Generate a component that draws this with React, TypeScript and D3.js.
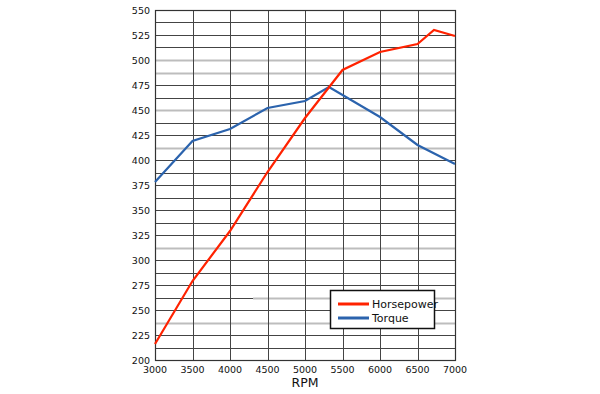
import * as d3 from "d3";
import { useEffect, useRef } from "react";

const hpRpm = [3000, 3500, 4000, 4500, 5000, 5500, 6000, 6500, 6720, 7000];
const hpValues = [216, 279, 329, 388, 442, 490, 508, 516, 530, 524];

const tqRpm = [3000, 3500, 4000, 4500, 5000, 5320, 6000, 6500, 7000];
const tqValues = [378, 419, 431, 452, 459, 473, 443, 415, 396];

const xTicks = [3000, 3500, 4000, 4500, 5000, 5500, 6000, 6500, 7000];
const yTicks = [200, 225, 250, 275, 300, 325, 350, 375, 400, 425, 450, 475, 500, 525, 550];
// grid lines that appear light grey in the original
const greyLines = [500, 487.5, 450, 412.5, 312.5, 237.5];

const App = () => {
  const ref = useRef<SVGSVGElement>(null);

  useEffect(() => {
    const svg = d3.select(ref.current);
    svg.selectAll("*").remove();

    const left = 155,
      right = 455,
      top = 10,
      bottom = 360;

    const x = d3.scaleLinear().domain([3000, 7000]).range([left, right]);
    const y = d3.scaleLinear().domain([200, 550]).range([bottom, top]);

    const g = svg.append("g");

    // horizontal grid every 12.5
    const hLines = d3.range(200, 550.1, 12.5);
    g.selectAll(".hgrid")
      .data(hLines)
      .enter()
      .append("line")
      .attr("x1", left)
      .attr("x2", right)
      .attr("y1", (d) => Math.round(y(d)) + 0.5)
      .attr("y2", (d) => Math.round(y(d)) + 0.5)
      .attr("stroke", "#444")
      .attr("stroke-width", 1);

    g.selectAll(".greygrid")
      .data(greyLines)
      .enter()
      .append("line")
      .attr("x1", left)
      .attr("x2", right)
      .attr("y1", (d) => Math.round(y(d)) + 0.5)
      .attr("y2", (d) => Math.round(y(d)) + 0.5)
      .attr("stroke", "#bdbdbd")
      .attr("stroke-width", 2);

    // partial grey line
    g.append("line")
      .attr("x1", 253)
      .attr("x2", right)
      .attr("y1", Math.round(y(262.5)) + 0.5)
      .attr("y2", Math.round(y(262.5)) + 0.5)
      .attr("stroke", "#bdbdbd")
      .attr("stroke-width", 2);

    g.selectAll(".vgrid")
      .data(xTicks)
      .enter()
      .append("line")
      .attr("x1", (d) => Math.round(x(d)) + 0.5)
      .attr("x2", (d) => Math.round(x(d)) + 0.5)
      .attr("y1", top)
      .attr("y2", bottom)
      .attr("stroke", "#444")
      .attr("stroke-width", 1);

    g.append("rect")
      .attr("x", left + 0.5)
      .attr("y", top + 0.5)
      .attr("width", right - left)
      .attr("height", bottom - top)
      .attr("fill", "none")
      .attr("stroke", "#333")
      .attr("stroke-width", 1.2);

    // tick labels
    g.selectAll(".ylab")
      .data(yTicks)
      .enter()
      .append("text")
      .attr("x", left - 5)
      .attr("y", (d) => y(d) + 3.5)
      .attr("text-anchor", "end")
      .attr("font-family", "DejaVu Sans")
      .attr("font-size", 9.5)
      .attr("fill", "#111")
      .text((d) => d);

    g.selectAll(".xlab")
      .data(xTicks)
      .enter()
      .append("text")
      .attr("x", (d) => x(d))
      .attr("y", bottom + 13)
      .attr("text-anchor", "middle")
      .attr("font-family", "DejaVu Sans")
      .attr("font-size", 9.5)
      .attr("fill", "#111")
      .text((d) => d);

    g.append("text")
      .attr("x", (left + right) / 2)
      .attr("y", bottom + 27)
      .attr("text-anchor", "middle")
      .attr("font-family", "DejaVu Sans")
      .attr("font-size", 12.5)
      .attr("fill", "#111")
      .text("RPM");

    const line = d3
      .line<[number, number]>()
      .x((d) => x(d[0]))
      .y((d) => y(d[1]));

    g.append("path")
      .datum(tqRpm.map((r, i) => [r, tqValues[i]] as [number, number]))
      .attr("d", line)
      .attr("fill", "none")
      .attr("stroke", "#2b63ad")
      .attr("stroke-width", 2.2);

    g.append("path")
      .datum(hpRpm.map((r, i) => [r, hpValues[i]] as [number, number]))
      .attr("d", line)
      .attr("fill", "none")
      .attr("stroke", "#ff2200")
      .attr("stroke-width", 2.2);

    // legend
    const lg = g.append("g");
    lg.append("rect")
      .attr("x", 330.5)
      .attr("y", 290.5)
      .attr("width", 104)
      .attr("height", 38)
      .attr("fill", "#fff")
      .attr("stroke", "#111")
      .attr("stroke-width", 1.5);
    const items = [
      { name: "Horsepower", color: "#ff2200" },
      { name: "Torque", color: "#2b63ad" },
    ];
    items.forEach((it, i) => {
      const yy = 304 + i * 14;
      lg.append("line")
        .attr("x1", 338)
        .attr("x2", 369)
        .attr("y1", yy)
        .attr("y2", yy)
        .attr("stroke", it.color)
        .attr("stroke-width", 3);
      lg.append("text")
        .attr("x", 372)
        .attr("y", yy + 4)
        .attr("font-family", "DejaVu Sans")
        .attr("font-size", 11)
        .attr("fill", "#111")
        .text(it.name);
    });
  }, []);

  return (
    <svg
      ref={ref}
      width={600}
      height={394}
      style={{ position: "absolute", left: 0, top: 0 }}
    />
  );
};

export default App;
